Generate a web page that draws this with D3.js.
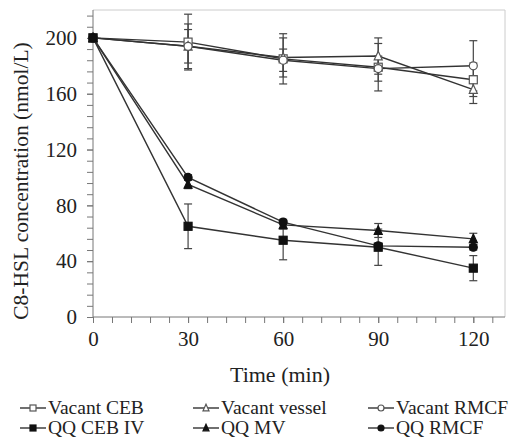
<!DOCTYPE html>
<html><head><meta charset="utf-8">
<script src="https://cdn.jsdelivr.net/npm/d3@7"></script>
</head><body style="margin:0;background:#fff"><svg id="c" width="519" height="441" style="display:block"></svg>
<script>
const times = [0, 30, 60, 90, 120];
const vacantCEB = [200, 197, 185, 179, 170];
const vacantCEBErr = [0, 20, 18, 17, 12];
const vacantVessel = [200, 194, 186, 187, 163];
const vacantVesselErr = [0, 16, 14, 13, 10];
const vacantRMCF = [200, 194, 184, 178, 180];
const vacantRMCFErr = [0, 12, 8, 9, 18];
const qqCEB = [200, 65, 55, 50, 35];
const qqCEBErr = [0, 16, 14, 13, 9];
const qqMV = [200, 95, 66, 62, 56];
const qqMVErr = [0, 3, 3, 5, 4];
const qqRMCF = [200, 100, 68, 51, 50];
const qqRMCFErr = [0, 2, 2, 2, 2];
const xTicks = [0, 30, 60, 90, 120];
const yTicks = [0, 40, 80, 120, 160, 200];
const seriesNames = ["Vacant CEB", "Vacant vessel", "Vacant RMCF", "QQ CEB IV", "QQ MV", "QQ RMCF"];

const series = [
  {name: seriesNames[0], v: vacantCEB, e: vacantCEBErr, shape: "square", fill: false},
  {name: seriesNames[1], v: vacantVessel, e: vacantVesselErr, shape: "triangle", fill: false},
  {name: seriesNames[2], v: vacantRMCF, e: vacantRMCFErr, shape: "circle", fill: false},
  {name: seriesNames[3], v: qqCEB, e: qqCEBErr, shape: "square", fill: true},
  {name: seriesNames[4], v: qqMV, e: qqMVErr, shape: "triangle", fill: true},
  {name: seriesNames[5], v: qqRMCF, e: qqRMCFErr, shape: "circle", fill: true}
];

const FONT = '"Liberation Serif"';
const svg = d3.select("#c");
const L = 93, R = 505, T = 10, B = 317;
const x = d3.scaleLinear().domain([0, 130]).range([L, R]);
const y = d3.scaleLinear().domain([0, 220]).range([B, T]);
const axisCol = "#777", lineCol = "#333";

function txt(sel, size) {
  return sel.attr("font-size", size).attr("font-family", "Liberation Serif").style("font-family", FONT).attr("fill", "#222");
}

// frame
svg.append("path").attr("d", `M${L},${T}H${R}V${B}`).attr("fill", "none").attr("stroke", "#ccc").attr("stroke-width", 1);

// x axis
const gx = svg.append("g").attr("transform", `translate(0,${B})`);
gx.call(d3.axisBottom(x).tickValues(d3.range(0, 130, 6)).tickSize(6).tickFormat(""));
gx.selectAll("line").attr("stroke", axisCol);
gx.select(".domain").attr("stroke", axisCol).attr("d", `M${L},0H${R}`);
const gx2 = svg.append("g").attr("transform", `translate(0,${B})`);
gx2.call(d3.axisBottom(x).tickValues(xTicks).tickSize(6).tickPadding(8));
gx2.attr("font-family", null).attr("font-size", null);
gx2.select(".domain").remove();
gx2.selectAll("line").attr("stroke", axisCol);
txt(gx2.selectAll("text"), 21);

// y axis
const gy = svg.append("g").attr("transform", `translate(${L},0)`);
gy.call(d3.axisLeft(y).tickValues(d3.range(0, 220, 8)).tickSize(6).tickFormat(""));
gy.selectAll("line").attr("stroke", axisCol);
gy.select(".domain").attr("stroke", axisCol).attr("d", `M0,${B}V${T}`);
const gy2 = svg.append("g").attr("transform", `translate(${L},0)`);
gy2.call(d3.axisLeft(y).tickValues(yTicks).tickSize(6).tickPadding(10));
gy2.attr("font-family", null).attr("font-size", null);
gy2.select(".domain").remove();
gy2.selectAll("line").attr("stroke", axisCol);
txt(gy2.selectAll("text"), 21);

// titles
txt(svg.append("text").attr("x", 280).attr("y", 382).attr("text-anchor", "middle"), 22).text("Time (min)");
txt(svg.append("text").attr("transform", `translate(28,181) rotate(-90)`).attr("text-anchor", "middle"), 21.5).text("C8-HSL concentration (nmol/L)");

function drawMarker(g, shape, fill, cx, cy, s) {
  const st = fill ? "#111" : "#555";
  const f = fill ? "#111" : "#fff";
  if (shape === "square") {
    g.append("rect").attr("x", cx - s / 2).attr("y", cy - s / 2).attr("width", s).attr("height", s).attr("fill", f).attr("stroke", st).attr("stroke-width", 1.2);
  } else if (shape === "circle") {
    g.append("circle").attr("cx", cx).attr("cy", cy).attr("r", s / 2).attr("fill", f).attr("stroke", st).attr("stroke-width", 1.2);
  } else {
    const h = s * 0.95;
    g.append("path").attr("d", `M${cx},${cy - h / 2 - 1}L${cx + s / 2},${cy + h / 2}L${cx - s / 2},${cy + h / 2}Z`).attr("fill", f).attr("stroke", st).attr("stroke-width", 1.2);
  }
}

const line = d3.line().x((d, i) => x(times[i])).y(d => y(d));
const plot = svg.append("g");
series.forEach(s => {
  s.v.forEach((v, i) => {
    if (!s.e[i]) return;
    const cx = x(times[i]);
    const g = plot.append("g").attr("stroke", "#444").attr("stroke-width", 1.2);
    g.append("line").attr("x1", cx).attr("x2", cx).attr("y1", y(v + s.e[i])).attr("y2", y(v - s.e[i]));
    g.append("line").attr("x1", cx - 4).attr("x2", cx + 4).attr("y1", y(v + s.e[i])).attr("y2", y(v + s.e[i]));
    g.append("line").attr("x1", cx - 4).attr("x2", cx + 4).attr("y1", y(v - s.e[i])).attr("y2", y(v - s.e[i]));
  });
  plot.append("path").datum(s.v).attr("d", line).attr("fill", "none").attr("stroke", lineCol).attr("stroke-width", 1.4);
});
series.forEach(s => {
  s.v.forEach((v, i) => drawMarker(plot, s.shape, s.fill, x(times[i]), y(v), 8));
});

// legend
const legX = [20, 193, 368], legY = [408, 428];
series.forEach((s, k) => {
  const col = k % 3, row = Math.floor(k / 3);
  const lx = legX[col], ly = legY[row];
  const g = svg.append("g");
  g.append("line").attr("x1", lx).attr("x2", lx + 26).attr("y1", ly).attr("y2", ly).attr("stroke", lineCol).attr("stroke-width", 1.4);
  drawMarker(g, s.shape, s.fill, lx + 13, ly, 6);
  txt(g.append("text").attr("x", lx + 28).attr("y", ly + 6), 19.5).text(s.name);
});
</script></body></html>
